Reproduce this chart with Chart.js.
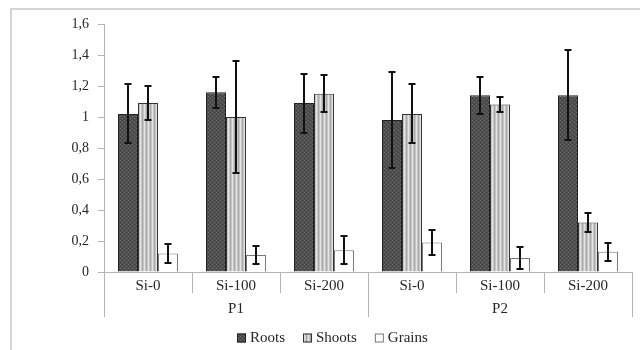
<!DOCTYPE html>
<html>
<head>
<meta charset="utf-8">
<script src="https://cdn.jsdelivr.net/npm/chart.js@4"></script>
<style>
  html, body { margin: 0; padding: 0; background: #fff; }
  #wrap { width: 640px; height: 350px; }
</style>
</head>
<body>
<div id="wrap"><canvas id="chart" width="640" height="350"></canvas></div>
<script>
// Data
const categories = ['Si-0', 'Si-100', 'Si-200', 'Si-0', 'Si-100', 'Si-200'];
const groups = ['P1', 'P2'];
const seriesNames = ['Roots', 'Shoots', 'Grains'];

const roots = [1.02, 1.16, 1.09, 0.98, 1.14, 1.14];
const shoots = [1.09, 1.00, 1.15, 1.02, 1.08, 0.32];
const grains = [0.12, 0.11, 0.14, 0.19, 0.09, 0.13];

const rootsErr = [0.19, 0.10, 0.19, 0.31, 0.12, 0.29];
const shootsErr = [0.11, 0.36, 0.12, 0.19, 0.05, 0.06];
const grainsErr = [0.06, 0.06, 0.09, 0.08, 0.07, 0.06];

const yTicks = [0, 0.2, 0.4, 0.6, 0.8, 1, 1.2, 1.4, 1.6];

const FONT = '"Liberation Serif", "DejaVu Serif", serif';
const AXIS_GRAY = '#b4b4b4';
const TEXT = '#262626';

// Fill patterns that mimic the printed textures
function makePattern(base, draw) {
  const c = document.createElement('canvas');
  c.width = 4; c.height = 4;
  const g = c.getContext('2d');
  g.fillStyle = base;
  g.fillRect(0, 0, 4, 4);
  draw(g);
  return g.createPattern(c, 'repeat');
}

const rootsFill = makePattern('#4f4f4f', function(g) {
  g.fillStyle = '#6c6c6c';
  g.fillRect(0, 0, 1, 1);
  g.fillRect(2, 2, 1, 1);
  g.fillStyle = '#404040';
  g.fillRect(2, 0, 1, 1);
  g.fillRect(0, 2, 1, 1);
});

const shootsFill = makePattern('#c6c6c6', function(g) {
  g.fillStyle = '#e4e4e4';
  g.fillRect(0, 0, 1, 4);
  g.fillStyle = '#a9a9a9';
  g.fillRect(2, 0, 1, 4);
});

// Error bars, frame, two-level axis labels and legend
const decorPlugin = {
  id: 'decor',
  beforeDraw(chart) {
    const ctx = chart.ctx;
    ctx.save();
    ctx.strokeStyle = '#c8c8c8';
    ctx.lineWidth = 1.5;
    ctx.beginPath();
    ctx.moveTo(11, 350);
    ctx.lineTo(11, 9);
    ctx.lineTo(640, 9);
    ctx.stroke();
    ctx.restore();
  },
  afterDatasetsDraw(chart) {
    const ctx = chart.ctx;
    const y = chart.scales.y;
    const errs = [rootsErr, shootsErr, grainsErr];
    ctx.save();
    ctx.strokeStyle = '#111';
    ctx.lineWidth = 2;
    chart.data.datasets.forEach(function(ds, i) {
      const meta = chart.getDatasetMeta(i);
      meta.data.forEach(function(bar, j) {
        const v = ds.data[j];
        const e = errs[i][j];
        const top = Math.round(y.getPixelForValue(v + e));
        const bot = Math.round(y.getPixelForValue(v - e));
        const x = Math.round(bar.x);
        ctx.beginPath();
        ctx.moveTo(x, top); ctx.lineTo(x, bot);
        ctx.moveTo(x - 3.5, top); ctx.lineTo(x + 3.5, top);
        ctx.moveTo(x - 3.5, bot); ctx.lineTo(x + 3.5, bot);
        ctx.stroke();
      });
    });
    ctx.restore();
  },
  afterDraw(chart) {
    const ctx = chart.ctx;
    const x = chart.scales.x;
    const area = chart.chartArea;
    const n = categories.length;
    const step = (area.right - area.left) / n;
    const perGroup = n / groups.length;

    ctx.save();
    ctx.strokeStyle = AXIS_GRAY;
    ctx.lineWidth = 1;
    // long separators between the P groups
    for (let k = 0; k <= groups.length; k++) {
      const px = Math.round(area.left + k * perGroup * step) + 0.5;
      ctx.beginPath();
      ctx.moveTo(px, area.bottom);
      ctx.lineTo(px, area.bottom + 45);
      ctx.stroke();
    }

    ctx.fillStyle = TEXT;
    ctx.font = '15px ' + FONT;
    ctx.textAlign = 'center';
    ctx.textBaseline = 'middle';
    categories.forEach(function(c, i) {
      ctx.fillText(c, x.getPixelForValue(i), area.bottom + 14);
    });
    groups.forEach(function(gname, k) {
      const cx = area.left + (k + 0.5) * perGroup * step;
      ctx.fillText(gname, cx, area.bottom + 37);
    });

    // legend
    const box = 9, gapText = 4, gapItem = 18;
    const ly = 338;
    ctx.textAlign = 'left';
    const widths = seriesNames.map(function(s) { return ctx.measureText(s).width; });
    let total = 0;
    widths.forEach(function(w, i) {
      total += box + gapText + w + (i < widths.length - 1 ? gapItem : 0);
    });
    let lx = Math.round(chart.width / 2 + 12 - total / 2);
    chart.data.datasets.forEach(function(ds, i) {
      ctx.fillStyle = ds.backgroundColor;
      ctx.fillRect(lx, ly - box / 2, box, box);
      ctx.strokeStyle = ds.borderColor;
      ctx.lineWidth = 1;
      ctx.strokeRect(lx + 0.5, ly - box / 2 + 0.5, box - 1, box - 1);
      ctx.fillStyle = TEXT;
      ctx.fillText(ds.label, lx + box + gapText, ly);
      lx += box + gapText + widths[i] + gapItem;
    });
    ctx.restore();
  }
};

const ctx = document.getElementById('chart');

new Chart(ctx, {
  type: 'bar',
  data: {
    labels: categories,
    datasets: [
      {
        label: seriesNames[0],
        data: roots,
        backgroundColor: rootsFill,
        borderColor: '#222',
        borderWidth: 1
      },
      {
        label: seriesNames[1],
        data: shoots,
        backgroundColor: shootsFill,
        borderColor: '#333',
        borderWidth: 1
      },
      {
        label: seriesNames[2],
        data: grains,
        backgroundColor: '#ffffff',
        borderColor: '#777',
        borderWidth: 1
      }
    ]
  },
  options: {
    responsive: false,
    devicePixelRatio: 1,
    animation: false,
    categoryPercentage: 0.682,
    barPercentage: 1,
    layout: {
      padding: { top: 24, right: 8, left: 0, bottom: 0 }
    },
    plugins: {
      tooltip: { enabled: false },
      legend: { display: false }
    },
    scales: {
      x: {
        grid: {
          display: true,
          drawOnChartArea: false,
          drawTicks: true,
          tickLength: 21,
          color: AXIS_GRAY,
          offset: true
        },
        border: { color: AXIS_GRAY },
        ticks: { display: false },
        afterFit: function(scale) { scale.height = 78; }
      },
      y: {
        min: 0,
        max: 1.6,
        afterBuildTicks: function(scale) {
          scale.ticks = yTicks.map(function(v) { return { value: v }; });
        },
        grid: {
          drawOnChartArea: false,
          drawTicks: true,
          tickLength: 6,
          color: AXIS_GRAY
        },
        border: { color: AXIS_GRAY },
        ticks: {
          padding: 9,
          color: TEXT,
          font: { family: FONT, size: 14 },
          callback: function(value) {
            return String(Math.round(value * 10) / 10).replace('.', ',');
          }
        },
        afterFit: function(scale) { scale.width = 104; }
      }
    }
  },
  plugins: [decorPlugin]
});
</script>
</body>
</html>
